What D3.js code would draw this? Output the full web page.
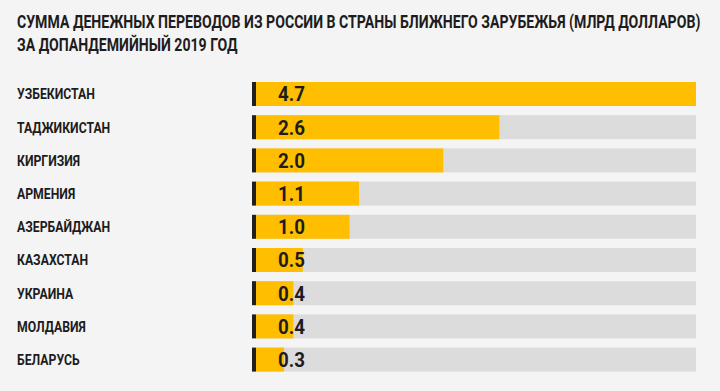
<!DOCTYPE html>
<html><head><meta charset="utf-8">
<script src="https://cdn.jsdelivr.net/npm/d3@7"></script>
<style>
html,body{margin:0;padding:0;background:#f4f4f4;}
svg{display:block;}
text{font-family:Roboto,"Liberation Sans",sans-serif;font-weight:700;fill:#1e1c1c;}
</style></head>
<body>
<script>
const titleLines = ["СУММА ДЕНЕЖНЫХ ПЕРЕВОДОВ ИЗ РОССИИ В СТРАНЫ БЛИЖНЕГО ЗАРУБЕЖЬЯ (МЛРД ДОЛЛАРОВ)", "ЗА ДОПАНДЕМИЙНЫЙ 2019 ГОД"];
const countries = ["УЗБЕКИСТАН","ТАДЖИКИСТАН","КИРГИЗИЯ","АРМЕНИЯ","АЗЕРБАЙДЖАН","КАЗАХСТАН","УКРАИНА","МОЛДАВИЯ","БЕЛАРУСЬ"];
const values = [4.7, 2.6, 2.0, 1.1, 1.0, 0.5, 0.4, 0.4, 0.3];
const maxValue = 4.7;

const W = 720, H = 391;
const svg = d3.select("body").append("svg").attr("width", W).attr("height", H);
svg.append("rect").attr("width", W).attr("height", H).attr("fill", "#f4f4f4");

// Title: condensed by horizontal scaling to the reference's width
const titleBase = [28.5, 51];
const titleNodes = titleLines.map((t, i) =>
  svg.append("text").attr("x", 17).attr("y", titleBase[i]).attr("font-size", 19).text(t));
const kt = 684 / titleNodes[0].node().getComputedTextLength();
titleNodes.forEach(n => n.attr("transform", `translate(17,0) scale(${kt},1) translate(-17,0)`));

const y = d3.scaleBand().domain(countries).range([82, 371.6]).paddingInner(0.277).paddingOuter(0);
const x = d3.scaleLinear().domain([0, maxValue]).range([256, 696]);

const data = countries.map((c, i) => ({c, v: values[i]}));

const g = svg.append("g");
const rows = g.selectAll("g.row").data(data).join("g").attr("class", "row");

rows.append("rect").attr("x", x(0)).attr("y", d => y(d.c))
  .attr("width", x(maxValue) - x(0)).attr("height", y.bandwidth()).attr("fill", "#dcdcdc");
rows.append("rect").attr("x", x(0)).attr("y", d => y(d.c))
  .attr("width", d => x(d.v) - x(0)).attr("height", y.bandwidth()).attr("fill", "#ffbf00");
rows.append("rect").attr("x", x(0) - 4).attr("y", d => y(d.c))
  .attr("width", 4).attr("height", y.bandwidth()).attr("fill", "#231f1c");

// Country labels
const labels = rows.append("text").attr("x", 17)
  .attr("y", d => y(d.c) + y.bandwidth() / 2 + 5.5)
  .attr("font-size", 15.5).text(d => d.c);
const ref = labels.nodes()[0].getComputedTextLength();
const kx = 78 / ref;
labels.attr("transform", `translate(17,0) scale(${kx},1) translate(-17,0)`);

// Value labels
const vals = rows.append("text").attr("x", 278)
  .attr("y", d => y(d.c) + y.bandwidth() / 2 + 7.5)
  .attr("font-size", 21).text(d => d3.format(".1f")(d.v));
const refV = vals.nodes()[0].getComputedTextLength();
const kv = 27 / refV;
vals.attr("transform", `translate(278,0) scale(${kv},1) translate(-278,0)`);
</script>
</body></html>
